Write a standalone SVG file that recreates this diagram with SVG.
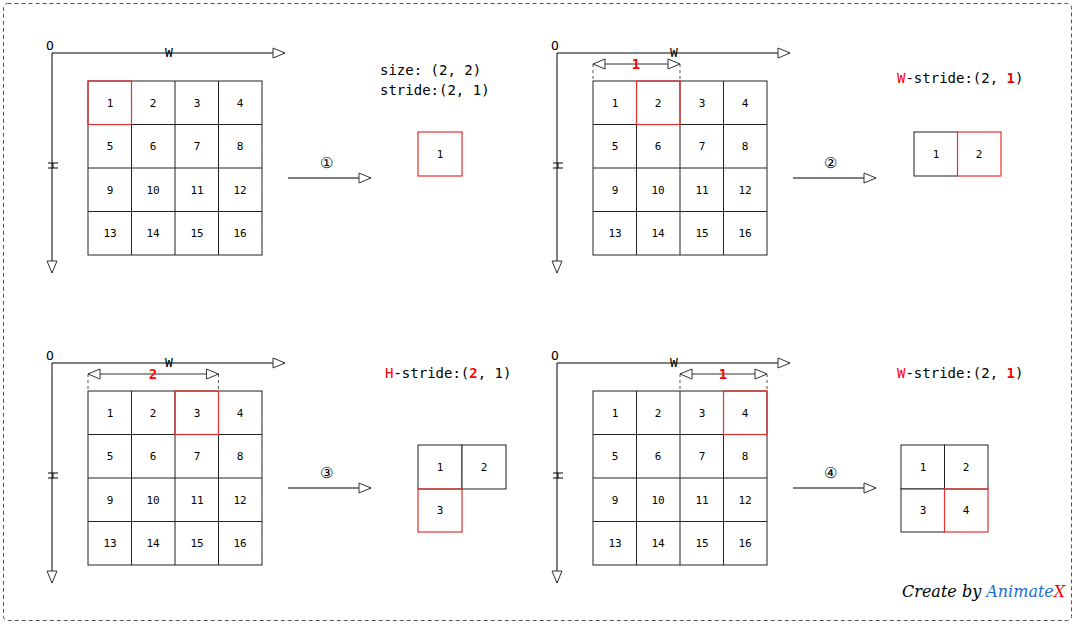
<svg xmlns="http://www.w3.org/2000/svg" width="1075" height="624" viewBox="0 0 1075 624">
<defs>
<marker id="oa" markerWidth="14" markerHeight="12" refX="13" refY="6" orient="auto-start-reverse" markerUnits="userSpaceOnUse"><path d="M1,1 L13,6 L1,11 Z" fill="#fff" stroke="#333" stroke-width="1"/></marker>
<g id="axes">
<path d="M52,53 H285" stroke="#000" fill="none" marker-end="url(#oa)"/>
<path d="M52,53 V273" stroke="#000" fill="none" marker-end="url(#oa)"/>
<path d="M48,163 H58 M48,168 H58 M53,163 V168" stroke="#000"/>
<text x="46" y="50" class="t" font-size="13">O</text>
<text x="169" y="57" class="t" font-size="13" text-anchor="middle">W</text>
</g>
<g id="grid">
<g class="c">
<rect x="88" y="81" width="174" height="174"/>
<path d="M131.5,81V255M175,81V255M218.5,81V255M88,124.5H262M88,168H262M88,211.5H262"/>
</g>
<g class="t" font-size="11" text-anchor="middle">
<text x="110" y="107">1</text><text x="153" y="107">2</text><text x="197" y="107">3</text><text x="240" y="107">4</text>
<text x="110" y="150">5</text><text x="153" y="150">6</text><text x="197" y="150">7</text><text x="240" y="150">8</text>
<text x="110" y="194">9</text><text x="153" y="194">10</text><text x="197" y="194">11</text><text x="240" y="194">12</text>
<text x="110" y="237">13</text><text x="153" y="237">14</text><text x="197" y="237">15</text><text x="240" y="237">16</text>
</g>
</g>
</defs>
<style>
.t{font-family:"DejaVu Sans Mono","Liberation Mono",monospace;fill:#000}
.c rect,.c path{fill:none;stroke:#222;stroke-width:1}
.r{fill:none;stroke:#e83030;stroke-width:1.2}
.b{fill:#fff;stroke:#222;stroke-width:1}
.red{fill:#f00}
.dash{stroke:#555;stroke-dasharray:3,3;fill:none}
</style>
<rect x="3.5" y="3.5" width="1068" height="617" rx="4" fill="#fff" stroke="#555" stroke-dasharray="4,3"/>

<g id="panel1">
<use href="#axes"/><use href="#grid"/>
<rect class="r" x="88" y="81" width="43.5" height="43.5"/>
<text class="t" x="380" y="75" font-size="14">size:  (2, 2)</text>
<text class="t" x="380" y="95" font-size="14">stride:(2, 1)</text>
<rect class="r" x="418" y="132" width="44" height="44"/>
<text class="t" x="440" y="158" font-size="11" text-anchor="middle">1</text>
</g>

<g id="panel2" transform="translate(505,0)">
<use href="#axes"/><use href="#grid"/>
<rect class="r" x="131.5" y="81" width="43.5" height="43.5"/>
<path class="dash" d="M88,64V81M175,64V81"/>
<path d="M88,64H175" stroke="#333" marker-start="url(#oa)" marker-end="url(#oa)"/>
<text class="t red" x="131" y="69" font-size="14" text-anchor="middle" font-weight="bold" fill="#f00" style="fill:#f00">1</text>
<text class="t" x="392" y="83" font-size="14"><tspan style="fill:#f00">W</tspan>-stride:(2, <tspan style="fill:#f00" font-weight="bold">1</tspan>)</text>
<rect class="b" x="409" y="132" width="43.5" height="44"/>
<rect class="r" x="452.5" y="132" width="43.5" height="44"/>
<text class="t" x="431" y="158" font-size="11" text-anchor="middle">1</text>
<text class="t" x="474" y="158" font-size="11" text-anchor="middle">2</text>
</g>

<g id="panel3" transform="translate(0,310)">
<use href="#axes"/><use href="#grid"/>
<rect class="r" x="175" y="81" width="43.5" height="43.5"/>
<path class="dash" d="M88,64V81M218.5,64V81"/>
<path d="M88,64H218.5" stroke="#333" marker-start="url(#oa)" marker-end="url(#oa)"/>
<text class="t" x="153" y="69" font-size="14" text-anchor="middle" font-weight="bold" style="fill:#f00">2</text>
<text class="t" x="385" y="68" font-size="14"><tspan style="fill:#f00">H</tspan>-stride:(<tspan style="fill:#f00" font-weight="bold">2</tspan>, 1)</text>
<rect class="b" x="418" y="135" width="44" height="44"/>
<rect class="b" x="462" y="135" width="44" height="44"/>
<rect class="r" x="418" y="179" width="44" height="43"/>
<text class="t" x="440" y="161" font-size="11" text-anchor="middle">1</text>
<text class="t" x="484" y="161" font-size="11" text-anchor="middle">2</text>
<text class="t" x="440" y="204" font-size="11" text-anchor="middle">3</text>
</g>

<g id="panel4" transform="translate(505,310)">
<use href="#axes"/><use href="#grid"/>
<rect class="r" x="218.5" y="81" width="43.5" height="43.5"/>
<path class="dash" d="M175,64V81M262,64V81"/>
<path d="M175,64H262" stroke="#333" marker-start="url(#oa)" marker-end="url(#oa)"/>
<text class="t" x="218" y="69" font-size="14" text-anchor="middle" font-weight="bold" style="fill:#f00">1</text>
<text class="t" x="392" y="68" font-size="14"><tspan style="fill:#f00">W</tspan>-stride:(2, <tspan style="fill:#f00" font-weight="bold">1</tspan>)</text>
<rect class="b" x="396" y="135" width="43.5" height="44"/>
<rect class="b" x="439.5" y="135" width="43.5" height="44"/>
<rect class="b" x="396" y="179" width="43.5" height="43"/>
<rect class="r" x="439.5" y="179" width="43.5" height="43"/>
<text class="t" x="418" y="161" font-size="11" text-anchor="middle">1</text>
<text class="t" x="461" y="161" font-size="11" text-anchor="middle">2</text>
<text class="t" x="418" y="204" font-size="11" text-anchor="middle">3</text>
<text class="t" x="461" y="204" font-size="11" text-anchor="middle">4</text>
</g>

<g id="connectors" stroke="#555" stroke-width="1.5" fill="none">
<path d="M288,178H371" marker-end="url(#oa)"/>
<path d="M793,178H876" marker-end="url(#oa)"/>
<path d="M288,488H371" marker-end="url(#oa)"/>
<path d="M793,488H876" marker-end="url(#oa)"/>
</g>
<g class="t" font-size="15" text-anchor="middle">
<text x="326" y="168">①</text><text x="830" y="168">②</text>
<text x="326" y="478">③</text><text x="830" y="478">④</text>
</g>
<text x="902" y="597" font-family="'DejaVu Serif',serif" font-style="italic" font-size="16">Create by <tspan fill="#1a6fd0">Animate</tspan><tspan fill="#f00">X</tspan></text>
</svg>
